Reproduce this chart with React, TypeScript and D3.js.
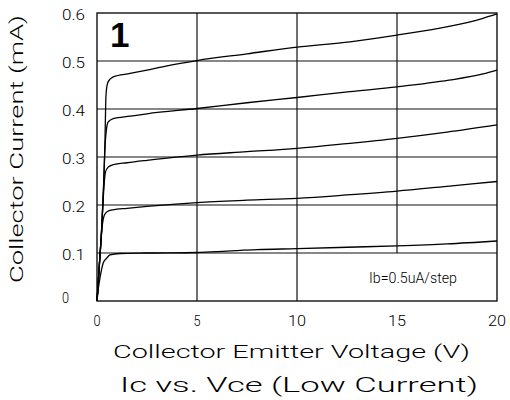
import React from "react";
import * as d3 from "d3";

// Collector characteristic curves, one per base-current step (Vce in V, Ic in mA)
const vce1 = [0, 0.08, 0.15, 0.31, 0.48, 0.65, 1.15, 2.5, 5, 6.5, 8, 10, 12.5, 15, 17.5, 20];
const ic1 = [0, 0.03, 0.048, 0.079, 0.089, 0.096, 0.099, 0.1, 0.101, 0.104, 0.107, 0.109, 0.112, 0.115, 0.119, 0.125];

const vce2 = [0, 0.1, 0.2, 0.28, 0.36, 0.5, 0.8, 1.5, 2.5, 5, 7.5, 10, 12.5, 15, 17.5, 20];
const ic2 = [0, 0.062, 0.125, 0.162, 0.178, 0.186, 0.19, 0.193, 0.197, 0.205, 0.21, 0.214, 0.221, 0.229, 0.239, 0.249];

const vce3 = [0, 0.1, 0.23, 0.3, 0.36, 0.42, 0.56, 0.81, 1.5, 2.5, 5, 7.5, 10, 12.5, 15, 17.5, 20];
const ic3 = [0, 0.063, 0.148, 0.205, 0.245, 0.268, 0.279, 0.284, 0.288, 0.293, 0.304, 0.311, 0.318, 0.328, 0.339, 0.352, 0.367];

const vce4 = [0, 0.1, 0.23, 0.32, 0.4, 0.44, 0.48, 0.56, 0.81, 1.65, 2.5, 5, 7.5, 10, 12.65, 15, 17.6, 19.3, 20];
const ic4 = [0, 0.065, 0.148, 0.23, 0.32, 0.345, 0.36, 0.373, 0.38, 0.385, 0.39, 0.401, 0.413, 0.424, 0.436, 0.446, 0.46, 0.473, 0.481];

const vce5 = [0, 0.1, 0.23, 0.32, 0.4, 0.44, 0.48, 0.56, 0.81, 1.65, 2.5, 3.5, 5, 7.5, 10, 12.65, 15, 17.6, 19.3, 20];
const ic5 = [0, 0.065, 0.148, 0.23, 0.335, 0.42, 0.443, 0.457, 0.467, 0.474, 0.481, 0.49, 0.501, 0.515, 0.529, 0.54, 0.554, 0.572, 0.589, 0.598];

const curves = [
  [vce1, ic1],
  [vce2, ic2],
  [vce3, ic3],
  [vce4, ic4],
  [vce5, ic5],
];

const xTicks = [0, 5, 10, 15, 20];
const xTickLabels = ["0", "5", "10", "15", "20"];
const yTicks = [0, 0.1, 0.2, 0.3, 0.4, 0.5, 0.6];
const yTickLabels = ["0", "0.1", "0.2", "0.3", "0.4", "0.5", "0.6"];

const WIDTH = 510;
const HEIGHT = 400;
const left = 97;
const right = 497;
const top = 13;
const bottom = 301;

const thin = "Roboto, 'Liberation Sans', sans-serif";

export default function App() {
  const x = d3.scaleLinear().domain([0, 20]).range([left, right]);
  const y = d3.scaleLinear().domain([0, 0.6]).range([bottom, top]);

  const line = d3
    .line<[number, number]>()
    .x((d) => x(d[0]))
    .y((d) => y(d[1]))
    .curve(d3.curveMonotoneX);

  const stroke = "#111";
  const textProps = {
    fontFamily: thin,
    fontWeight: 300,
    fill: "#000",
    lengthAdjust: "spacingAndGlyphs" as const,
  };

  return (
    <svg
      width={WIDTH}
      height={HEIGHT}
      style={{ position: "absolute", left: 0, top: 0, background: "#fff" }}
    >
      <rect x={0} y={0} width={WIDTH} height={HEIGHT} fill="#fff" />

      {/* horizontal grid */}
      {yTicks.slice(1, -1).map((t) => (
        <line key={"h" + t} x1={left} x2={right} y1={y(t)} y2={y(t)} stroke={stroke} strokeWidth={1.2} />
      ))}
      {/* vertical grid; the 15 V line stops above the annotation box */}
      {xTicks.slice(1, -1).map((t) => (
        <line
          key={"v" + t}
          x1={x(t)}
          x2={x(t)}
          y1={top}
          y2={t === 15 ? y(0.1) : bottom}
          stroke={stroke}
          strokeWidth={1.2}
        />
      ))}
      <rect x={left} y={top} width={right - left} height={bottom - top} fill="none" stroke={stroke} strokeWidth={1.4} />

      {/* curves */}
      {curves.map(([vs, is], i) => (
        <path
          key={"c" + i}
          d={line(vs.map((v, j) => [v, is[j]] as [number, number])) || ""}
          fill="none"
          stroke="#000"
          strokeWidth={1.3}
        />
      ))}

      {/* y tick labels */}
      {yTicks.map((t, i) => (
        <text
          key={"yl" + t}
          x={62}
          y={i === 0 ? y(t) + 2 : y(t) + 7}
          fontSize={14}
          textLength={yTickLabels[i].length === 1 ? 7 : 23}
          {...textProps}
        >
          {yTickLabels[i]}
        </text>
      ))}

      {/* x tick labels */}
      {xTicks.map((t, i) => (
        <text
          key={"xl" + t}
          x={x(t) - (xTickLabels[i].length === 1 ? 3.5 : 9)}
          y={326}
          fontSize={14}
          textLength={xTickLabels[i].length === 1 ? 7 : 18}
          {...textProps}
        >
          {xTickLabels[i]}
        </text>
      ))}

      {/* axis titles */}
      <text x={113} y={358} fontSize={18} textLength={357} {...textProps}>
        Collector Emitter Voltage (V)
      </text>
      <text
        transform={`translate(23,149) rotate(-90)`}
        x={-134}
        y={0}
        fontSize={18}
        textLength={268}
        {...textProps}
      >
        Collector Current (mA)
      </text>
      <text x={120} y={392} fontSize={21} textLength={358} {...textProps}>
        Ic vs. Vce (Low Current)
      </text>

      {/* annotation and panel number */}
      <text x={369} y={283} fontSize={14} textLength={88} {...textProps}>
        Ib=0.5uA/step
      </text>
      <text x={110} y={47} fontFamily="'Liberation Sans', Arial, sans-serif" fontWeight="bold" fontSize={35} fill="#000">
        1
      </text>
    </svg>
  );
}
